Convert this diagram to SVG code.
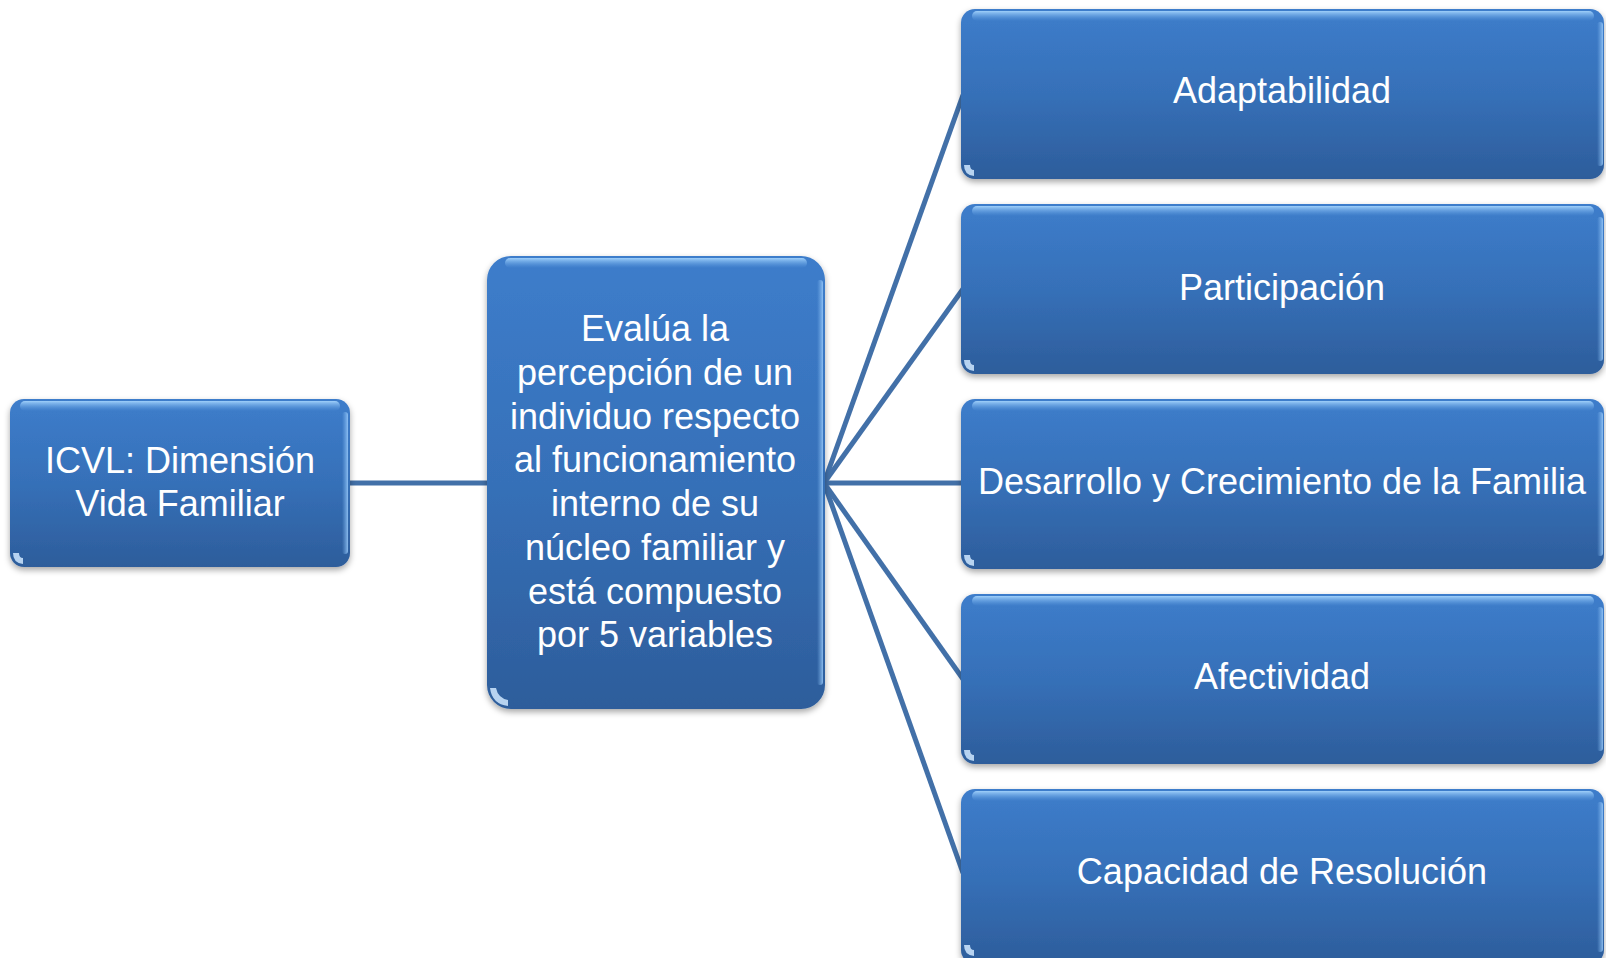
<svg xmlns="http://www.w3.org/2000/svg" width="1606" height="958" viewBox="0 0 1606 958">
<defs>
<linearGradient id="body" x1="0" y1="0" x2="0" y2="1">
<stop offset="0" stop-color="#3d7dcb"/>
<stop offset="0.5" stop-color="#3670b8"/>
<stop offset="1" stop-color="#2d5d9b"/>
</linearGradient>
<linearGradient id="gloss" x1="0" y1="0" x2="0" y2="1">
<stop offset="0" stop-color="#a9d8ff" stop-opacity="0.9"/>
<stop offset="1" stop-color="#6aa8e8" stop-opacity="0"/>
</linearGradient>
<linearGradient id="side" x1="0" y1="0" x2="1" y2="0">
<stop offset="0" stop-color="#7fb6ee" stop-opacity="0"/>
<stop offset="1" stop-color="#9fd0ff" stop-opacity="0.8"/>
</linearGradient>
<filter id="sh" x="-5%" y="-5%" width="110%" height="115%">
<feDropShadow dx="0" dy="3" stdDeviation="3" flood-color="#000" flood-opacity="0.35"/>
</filter>
</defs>
<style>
.box{fill:url(#body);filter:url(#sh)}
.gl{fill:url(#gloss)}
.sd{fill:url(#side)}
.corner{fill:#cfe8ff;opacity:0.85}
.lbl{font-family:"Liberation Sans",Arial,sans-serif;font-size:36px;fill:#ffffff;text-anchor:middle;dominant-baseline:central}
.con{stroke:#4270a8;stroke-width:5;fill:none}
</style>
<rect width="1606" height="958" fill="#ffffff"/>
<g id="connectors">
<line class="con" x1="348" y1="483" x2="488" y2="483"/>
<line class="con" x1="824" y1="483" x2="963" y2="95"/>
<line class="con" x1="824" y1="483" x2="963" y2="289"/>
<line class="con" x1="824" y1="483" x2="963" y2="483"/>
<line class="con" x1="824" y1="483" x2="963" y2="679"/>
<line class="con" x1="824" y1="483" x2="963" y2="873"/>
</g>
<g id="node-icvl">
<rect class="box" x="10" y="399" width="340" height="168" rx="14"/>
<rect class="gl" x="20" y="401" width="320" height="10" rx="5"/>
<rect class="sd" x="342" y="412" width="6" height="142" rx="3"/>
<path class="corner" d="M13 553 q0 10 10 11 l0 -6 q-4 0 -4 -5 z"/>
<text class="lbl" x="180" y="460">ICVL: Dimensión</text>
<text class="lbl" x="180" y="503">Vida Familiar</text>
</g>
<g id="node-evalua">
<rect class="box" x="487" y="256" width="338" height="453" rx="24"/>
<rect class="gl" x="505" y="258" width="302" height="10" rx="5"/>
<rect class="sd" x="817" y="280" width="6" height="405" rx="3"/>
<path class="corner" d="M490 688 q2 16 18 18 l0 -6 q-10 -2 -12 -12 z"/>
<text class="lbl" x="655" y="328">Evalúa la</text>
<text class="lbl" x="655" y="372">percepción de un</text>
<text class="lbl" x="655" y="416">individuo respecto</text>
<text class="lbl" x="655" y="459">al funcionamiento</text>
<text class="lbl" x="655" y="503">interno de su</text>
<text class="lbl" x="655" y="547">núcleo familiar y</text>
<text class="lbl" x="655" y="591">está compuesto</text>
<text class="lbl" x="655" y="634">por 5 variables</text>
</g>
<g id="node-adaptabilidad">
<rect class="box" x="961" y="9" width="643" height="170" rx="14"/>
<rect class="gl" x="972" y="11" width="622" height="10" rx="5"/>
<rect class="sd" x="1597" y="22" width="6" height="144" rx="3"/>
<path class="corner" d="M964 165 q0 10 10 11 l0 -6 q-4 0 -4 -5 z"/>
<text class="lbl" x="1282" y="90">Adaptabilidad</text>
</g>
<g id="node-participacion">
<rect class="box" x="961" y="204" width="643" height="170" rx="14"/>
<rect class="gl" x="972" y="206" width="622" height="10" rx="5"/>
<rect class="sd" x="1597" y="217" width="6" height="144" rx="3"/>
<path class="corner" d="M964 360 q0 10 10 11 l0 -6 q-4 0 -4 -5 z"/>
<text class="lbl" x="1282" y="287">Participación</text>
</g>
<g id="node-desarrollo">
<rect class="box" x="961" y="399" width="643" height="170" rx="14"/>
<rect class="gl" x="972" y="401" width="622" height="10" rx="5"/>
<rect class="sd" x="1597" y="412" width="6" height="144" rx="3"/>
<path class="corner" d="M964 555 q0 10 10 11 l0 -6 q-4 0 -4 -5 z"/>
<text class="lbl" x="1282" y="481">Desarrollo y Crecimiento de la Familia</text>
</g>
<g id="node-afectividad">
<rect class="box" x="961" y="594" width="643" height="170" rx="14"/>
<rect class="gl" x="972" y="596" width="622" height="10" rx="5"/>
<rect class="sd" x="1597" y="607" width="6" height="144" rx="3"/>
<path class="corner" d="M964 750 q0 10 10 11 l0 -6 q-4 0 -4 -5 z"/>
<text class="lbl" x="1282" y="676">Afectividad</text>
</g>
<g id="node-capacidad">
<rect class="box" x="961" y="789" width="643" height="175" rx="14"/>
<rect class="gl" x="972" y="791" width="622" height="10" rx="5"/>
<rect class="sd" x="1597" y="802" width="6" height="150" rx="3"/>
<path class="corner" d="M964 945 q0 10 10 11 l0 -6 q-4 0 -4 -5 z"/>
<text class="lbl" x="1282" y="871">Capacidad de Resolución</text>
</g>
</svg>
